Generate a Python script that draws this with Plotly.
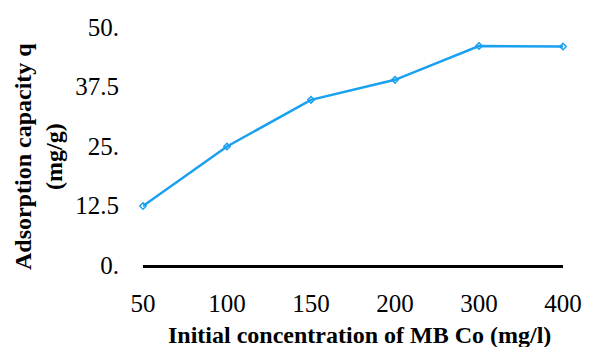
import plotly.graph_objects as go

categories = ["50", "100", "150", "200", "300", "400"]
q_values = [12.4, 24.9, 34.7, 38.9, 46.0, 45.9]
y_tickvals = [0, 12.5, 25, 37.5, 50]
y_ticktext = ["0.", "12.5", "25.", "37.5", "50."]

fig = go.Figure()
fig.add_trace(go.Scatter(
    x=list(range(len(categories))), y=q_values, mode="lines+markers",
    line=dict(color="#1AA0F0", width=2.5),
    marker=dict(symbol="diamond-open", size=5, color="#1AA0F0", line=dict(width=1.5)),
    showlegend=False, cliponaxis=False,
))

font = "Liberation Serif, Times New Roman, serif"
fig.update_layout(
    width=594, height=347,
    margin=dict(l=143, r=23, t=27, b=82),
    paper_bgcolor="white", plot_bgcolor="white",
    font=dict(family=font, size=24, color="black"),
    xaxis=dict(
        range=[0, len(categories) - 1],
        tickvals=list(range(len(categories))), ticktext=categories,
        showgrid=False, zeroline=False,
        showline=True, linecolor="black", linewidth=3,
        ticks="", ticklabelstandoff=14,
        tickfont=dict(family=font, size=25),
    ),
    yaxis=dict(
        range=[0, 50], tickvals=y_tickvals, ticktext=y_ticktext,
        showgrid=False, zeroline=False, showline=False,
        ticks="", ticklabelstandoff=23,
        tickfont=dict(family=font, size=25),
    ),
    annotations=[
        dict(text="<b>Adsorption capacity q</b><br><b>(mg/g)</b>",
             xref="paper", yref="paper", x=-(143 - 36) / 428, y=(265 - 157) / 238,
             xanchor="center", yanchor="middle", textangle=-90, showarrow=False,
             font=dict(family=font, size=24, color="black")),
        dict(text="<b>Initial concentration of MB Co (mg/l)</b>",
             xref="paper", yref="paper", x=(364 - 143) / 428, y=-(335 - 265) / 238,
             xanchor="center", yanchor="middle", showarrow=False,
             font=dict(family=font, size=24, color="black")),
    ],
)
fig.write_html("out.html")
